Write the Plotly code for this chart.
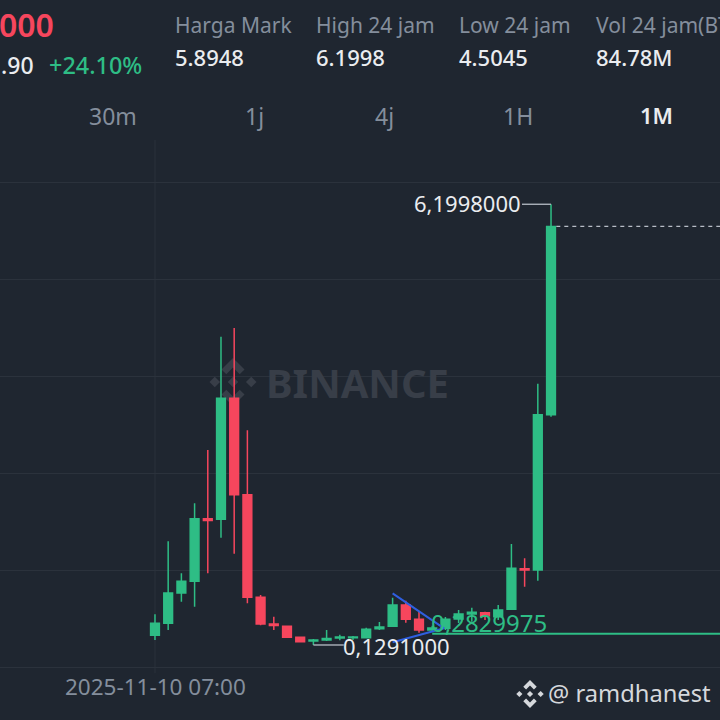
import plotly.graph_objects as go

# Candles (price units)
candle_index = list(range(31))
opens = [0.263, 0.428, 0.845, 1.006, 1.869, 1.860, 3.527, 2.199, 0.786, 0.418, 0.387,
         0.235, 0.184, 0.198, 0.225, 0.230, 0.230, 0.354, 0.387, 0.680, 0.483, 0.336,
         0.359, 0.487, 0.556, 0.572, 0.519, 0.621, 1.180, 1.162, 3.301]
highs = [0.552, 1.557, 1.117, 2.081, 2.815, 4.376, 4.495, 3.086, 0.818, 0.519, 0.395,
         0.240, 0.212, 0.336, 0.271, 0.253, 0.367, 0.446, 0.781, 0.739, 0.588, 0.395,
         0.515, 0.611, 0.643, 0.588, 0.680, 1.520, 1.323, 3.728, 6.1998]
lows = [0.198, 0.336, 0.725, 0.657, 1.117, 1.607, 1.387, 0.703, 0.400, 0.336, 0.230,
        0.163, 0.1291, 0.184, 0.194, 0.198, 0.225, 0.336, 0.381, 0.436, 0.298, 0.312,
        0.336, 0.432, 0.450, 0.473, 0.473, 0.611, 0.932, 1.015, 3.274]
closes = [0.428, 0.845, 1.006, 1.869, 1.844, 3.527, 2.199, 0.786, 0.418, 0.398, 0.235,
          0.173, 0.198, 0.219, 0.239, 0.239, 0.345, 0.377, 0.680, 0.483, 0.336, 0.363,
          0.483, 0.556, 0.579, 0.528, 0.611, 1.185, 1.162, 3.301, 5.8948]

grid_prices = [-0.174, 1.162, 2.498, 3.834, 5.170, 6.506]

# Hand drawn triangle on the chart
wedge_x = [18, 21.9, 18]
wedge_y = [0.841, 0.359, 0.166]

high_price = 6.1998
low_price = 0.1291
last_price = 5.8948
open_line_price = 0.2829975

header_labels = ["Harga Mark", "High 24 jam", "Low 24 jam", "Vol 24 jam(BTC)"]
header_values = ["5.8948", "6.1998", "4.5045", "84.78M"]
header_left = [173, 314, 457, 594]
periods = ["30m", "1j", "4j", "1H", "1M"]
period_centers = [113, 254, 384, 518, 656]

BG = "#1f2630"
GREEN = "#2ebd85"
RED = "#f6465d"
GREY = "#848e9c"
GRID = "#2b323c"
FONT = "Noto Sans"

fig = go.Figure()

fig.add_trace(go.Candlestick(
    x=candle_index, open=opens, high=highs, low=lows, close=closes,
    increasing=dict(line=dict(color=GREEN, width=1.5), fillcolor=GREEN),
    decreasing=dict(line=dict(color=RED, width=1.5), fillcolor=RED),
    whiskerwidth=0, hoverinfo="skip",
))

fig.add_trace(go.Scatter(x=wedge_x, y=wedge_y, mode="lines",
                         line=dict(color="#2f5fe0", width=2), hoverinfo="skip"))
# leader lines for the high and low labels
fig.add_trace(go.Scatter(x=[27.8, 30], y=[high_price, high_price], mode="lines",
                         line=dict(color="#b7bdc6", width=1.3), hoverinfo="skip"))
fig.add_trace(go.Scatter(x=[12, 14.3], y=[low_price, low_price], mode="lines",
                         line=dict(color="#b7bdc6", width=1.3), hoverinfo="skip"))
# dashed last price and solid green level
fig.add_trace(go.Scatter(x=[30.4, 43], y=[last_price, last_price], mode="lines",
                         line=dict(color="#b7bdc6", width=1.2, dash="4px,4px"), hoverinfo="skip"))
fig.add_trace(go.Scatter(x=[21, 43], y=[open_line_price, open_line_price], mode="lines",
                         line=dict(color=GREEN, width=2), hoverinfo="skip"))


def text(x, y, s, size, color, anchor="left", weight=400):
    fig.add_annotation(xref="paper", yref="paper", x=x / 720, y=1 - y / 720, text=s,
                       showarrow=False, xanchor=anchor, yanchor="middle",
                       font=dict(family=FONT, size=size, color=color, weight=weight))


def logo(cx, cy, r, color, layer):
    parts = [
        [(0, -1), (.48, -.52), (.28, -.32), (0, -.6), (-.28, -.32), (-.48, -.52)],
        [(0, 1), (.48, .52), (.28, .32), (0, .6), (-.28, .32), (-.48, .52)],
        [(0, -.22), (.22, 0), (0, .22), (-.22, 0)],
        [(-.76, -.22), (-.54, 0), (-.76, .22), (-.98, 0)],
        [(.76, -.22), (.98, 0), (.76, .22), (.54, 0)],
    ]
    for part in parts:
        pts = [f"{(cx + r * a) / 720:.5f},{1 - (cy + r * b) / 720:.5f}" for a, b in part]
        fig.add_shape(type="path", xref="paper", yref="paper", layer=layer,
                      path="M" + " L".join(pts) + " Z",
                      fillcolor=color, line=dict(width=0))


# header
text(56, 25, "000", 32, RED, "right", 600)
text(36, 65, ".90", 23, "#eaecef", "right", 500)
text(47, 65, "+24.10%", 23.4, GREEN, weight=500)
for left, label, value in zip(header_left, header_labels, header_values):
    text(left, 25, label, 21, GREY)
    text(left, 57, value, 22, "#eaecef", weight=500)
for center, period in zip(period_centers, periods):
    if period == "1M":
        text(center, 115, period, 22, "#eaecef", "center", 600)
    else:
        text(center, 116, period, 23, GREY, "center")

# watermark
logo(233, 382, 24, "#383e48", "below")
text(264, 382, "BINANCE", 40, "#383e48", weight=700)

# price labels
text(523, 203, "6,1998000", 22, "#eaecef", "right")
text(341, 646, "0,1291000", 22, "#eaecef")
text(429, 622, "0,2829975", 24, GREEN)

# footer
text(155, 686, "2025-11-10 07:00", 22.5, GREY, "center")
logo(530, 694, 14, "#d5d8dc", "above")
text(546, 693, "@ ramdhanest", 23.7, "#d5d8dc")

# crosshair at the first candle
fig.add_shape(type="line", xref="x", yref="paper", x0=0, x1=0, y0=0.065, y1=1 - 140 / 720,
              layer="below", line=dict(color=GRID, width=1))

fig.update_layout(
    width=720, height=720, margin=dict(l=0, r=0, t=0, b=0),
    paper_bgcolor=BG, plot_bgcolor=BG, showlegend=False, boxgap=0.05,
    xaxis=dict(range=[-11.74, 42.8], showgrid=False, zeroline=False, showticklabels=False,
               rangeslider=dict(visible=False), fixedrange=True),
    yaxis=dict(range=[-0.904, 9.013], tickmode="array", tickvals=grid_prices, showgrid=True,
               gridcolor=GRID, gridwidth=1, zeroline=False, showticklabels=False, fixedrange=True),
)

# page margin off so the chart fills the window
fig.write_html("out.html", config={"displayModeBar": False},
               post_script="document.body.style.margin='0';")
